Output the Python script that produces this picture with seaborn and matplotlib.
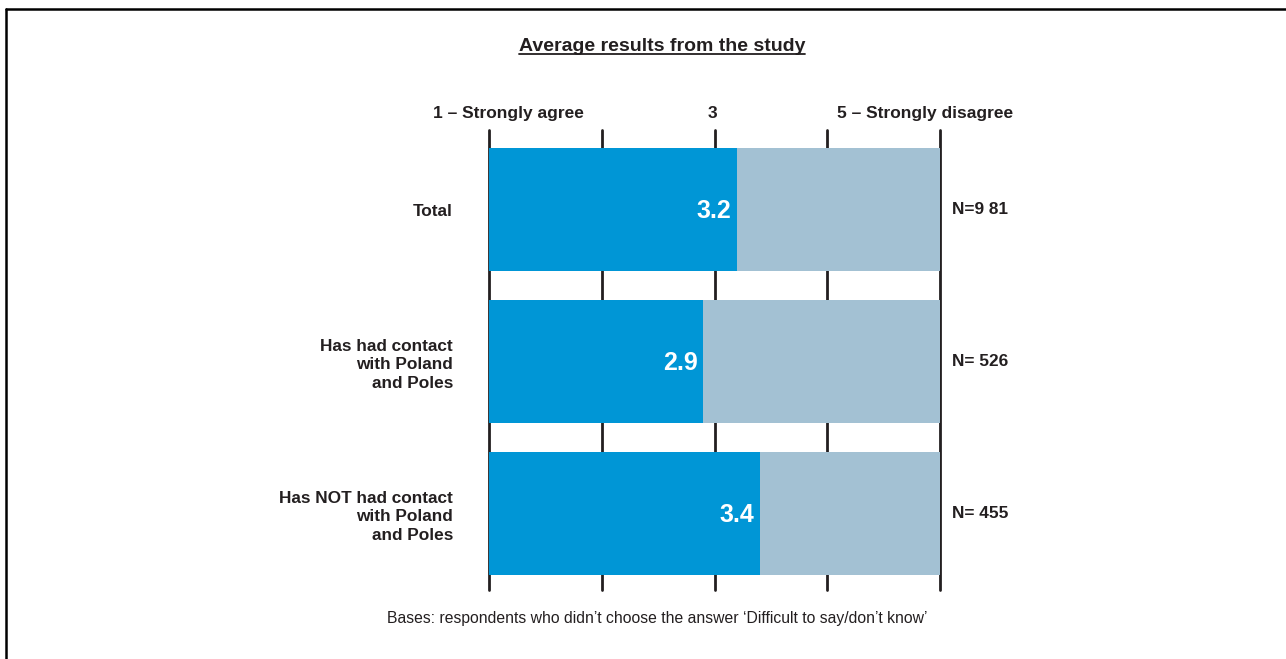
import matplotlib
matplotlib.use('Agg')
import matplotlib.pyplot as plt
import matplotlib.transforms as mtransforms
from matplotlib.lines import Line2D
import seaborn as sns

# данные
categories = ['Total', 'Has had contact\nwith Poland\nand Poles', 'Has NOT had contact\nwith Poland\nand Poles']
means = [3.2, 2.9, 3.4]
base_labels = ['N=9 81', 'N= 526', 'N= 455']
scale_labels = ['1 – Strongly agree', '3', '5 – Strongly disagree']
scale_pos = [1.17, 2.98, 4.87]
scale_max = [5, 5, 5]
ticks = [1, 2, 3, 4, 5]

blue = '#0096D6'
grey_blue = '#A3C1D3'
dark = '#231F20'

sns.set_style('white')
plt.rcParams['font.family'] = ['Liberation Sans', 'DejaVu Sans']

W, H = 1286, 659
fig = plt.figure(figsize=(W / 100, H / 100), dpi=100)
ax = fig.add_axes([489 / W, 1 - 590 / H, 451 / W, 460 / H])

# фон до 5, потом само среднее
sns.barplot(x=scale_max, y=categories, orient='h', color=grey_blue, saturation=1, width=0.81,
            linewidth=0, ax=ax, zorder=2)
sns.barplot(x=means, y=categories, orient='h', color=blue, saturation=1, width=0.81,
            linewidth=0, ax=ax, zorder=3)

for t in ticks:
    ax.axvline(t, color=dark, lw=2, zorder=1, clip_on=False)

ax.set_xlim(1, 5)
ax.set_ylim(2.503, -0.523)
ax.set_xticks([])
ax.set_xlabel('')
ax.set_ylabel('')
for s in ax.spines.values():
    s.set_visible(False)
ax.tick_params(axis='y', length=0, pad=26)
for lab in ax.get_yticklabels():
    lab.set_fontsize(12.4)
    lab.set_fontweight('bold')
    lab.set_color(dark)
    lab.set_linespacing(1.28)

# подписи значений
for i, v in enumerate(means):
    ax.annotate(f'{v:.1f}', xy=(v, i), xytext=(-4, -1), textcoords='offset points',
                ha='right', va='center', color='white', fontsize=18, fontweight='bold', zorder=5)

for i, n in enumerate(base_labels):
    ax.annotate(n, xy=(5, i), xytext=(9, 0), textcoords='offset points', ha='left', va='center',
                color=dark, fontsize=12.4, fontweight='bold', annotation_clip=False)

trans = mtransforms.blended_transform_factory(ax.transData, fig.transFigure)
for lab, x in zip(scale_labels, scale_pos):
    ax.text(x, 1 - 118 / H, lab, transform=trans, ha='center', va='baseline',
            fontsize=12.5, fontweight='bold', color=dark)

title = fig.text(662 / W, 1 - 51 / H, 'Average results from the study', ha='center', va='baseline',
                 fontsize=14, fontweight='bold', color=dark)
fig.text(657 / W, 1 - 618 / H, 'Bases: respondents who didn’t choose the answer ‘Difficult to say/don’t know’',
         ha='center', va='center', fontsize=11.3, color=dark)

# подчёркивание заголовка
fig.canvas.draw()
bb = title.get_window_extent().transformed(fig.transFigure.inverted())
fig.add_artist(Line2D([bb.x0, bb.x1], [bb.y0 + 0.002, bb.y0 + 0.002], color=dark, lw=1.3, transform=fig.transFigure))

# рамка
fig.add_artist(Line2D([6 / W, 1], [1 - 9 / H, 1 - 9 / H], color='black', lw=1.8, transform=fig.transFigure))
fig.add_artist(Line2D([6 / W, 6 / W], [0, 1 - 9 / H], color='black', lw=1.8, transform=fig.transFigure))

fig.savefig('out.png', dpi=100)
